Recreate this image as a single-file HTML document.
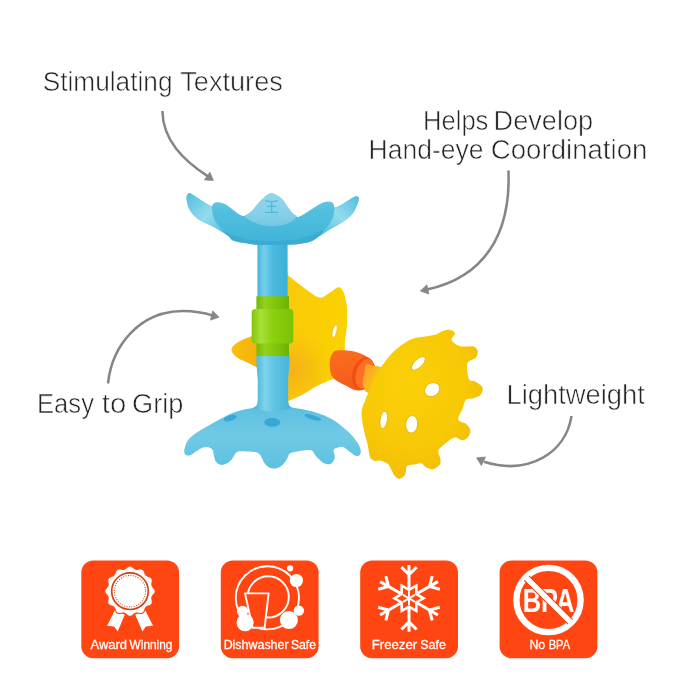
<!DOCTYPE html>
<html lang="en">
<head>
<meta charset="utf-8">
<title>Product features</title>
<style>
html,body{margin:0;padding:0;background:#fff;}
body{width:679px;height:679px;overflow:hidden;}
svg{display:block;font-family:"Liberation Sans",sans-serif;}
</style>
</head>
<body>
<svg width="679" height="679" viewBox="0 0 679 679">
<defs>
<filter id="soft" x="-5%" y="-5%" width="110%" height="110%" color-interpolation-filters="sRGB"><feGaussianBlur stdDeviation="0.35"/></filter>
<filter id="soft2" x="-5%" y="-5%" width="110%" height="110%" color-interpolation-filters="sRGB"><feGaussianBlur stdDeviation="0.45"/></filter>
<linearGradient id="gStem" x1="0" x2="1" y1="0" y2="0">
 <stop offset="0" stop-color="#48B6DB"/><stop offset="0.22" stop-color="#74D0EC"/><stop offset="0.5" stop-color="#4CBADE"/><stop offset="1" stop-color="#3DB0D7"/>
</linearGradient>
<linearGradient id="gStem2" gradientUnits="userSpaceOnUse" x1="257" x2="289" y1="0" y2="0">
 <stop offset="0" stop-color="#52BBDD"/><stop offset="0.25" stop-color="#7ED2EB"/><stop offset="0.55" stop-color="#5FC3E2"/><stop offset="1" stop-color="#48B6DA"/>
</linearGradient>
<linearGradient id="gBowl" x1="0" x2="0" y1="0" y2="1">
 <stop offset="0" stop-color="#6ECAE5"/><stop offset="0.35" stop-color="#53BFDF"/><stop offset="0.8" stop-color="#44B7D9"/><stop offset="1" stop-color="#3EB2D6"/>
</linearGradient>
<linearGradient id="gPetL" x1="0" x2="1" y1="0" y2="1">
 <stop offset="0" stop-color="#52BEDD"/><stop offset="0.5" stop-color="#92DCEE"/><stop offset="1" stop-color="#4EBBDA"/>
</linearGradient>
<linearGradient id="gPetR" x1="1" x2="0" y1="0" y2="1">
 <stop offset="0" stop-color="#52BEDD"/><stop offset="0.5" stop-color="#92DCEE"/><stop offset="1" stop-color="#4EBBDA"/>
</linearGradient>
<linearGradient id="gBase" x1="0" x2="0" y1="0" y2="1">
 <stop offset="0" stop-color="#5CBFE1"/><stop offset="0.5" stop-color="#70CAE5"/><stop offset="1" stop-color="#5CC0E1"/>
</linearGradient>
<linearGradient id="gGreenN" x1="0" x2="1" y1="0" y2="0">
 <stop offset="0" stop-color="#74B806"/><stop offset="0.25" stop-color="#92D01C"/><stop offset="0.7" stop-color="#7CC208"/><stop offset="1" stop-color="#6CB004"/>
</linearGradient>
<linearGradient id="gGreenW" x1="0" x2="1" y1="0" y2="0">
 <stop offset="0" stop-color="#80C608"/><stop offset="0.22" stop-color="#A8E038"/><stop offset="0.5" stop-color="#8CD010"/><stop offset="1" stop-color="#7CC204"/>
</linearGradient>
<linearGradient id="gYB" x1="0" x2="1" y1="0" y2="0">
 <stop offset="0" stop-color="#F9CA0A"/><stop offset="0.5" stop-color="#F9CE04"/><stop offset="1" stop-color="#FAD202"/>
</linearGradient>
<linearGradient id="gYL" x1="0" x2="1" y1="0" y2="0">
 <stop offset="0" stop-color="#F9C00C"/><stop offset="1" stop-color="#F4AE0C"/>
</linearGradient>
<linearGradient id="gOrW" x1="0" x2="0.4" y1="0" y2="1">
 <stop offset="0" stop-color="#FB6E22"/><stop offset="0.5" stop-color="#F9651C"/><stop offset="1" stop-color="#F45A1A"/>
</linearGradient>
<linearGradient id="gShaft" gradientUnits="userSpaceOnUse" x1="360" y1="370" x2="384" y2="378"><stop offset="0" stop-color="#FA9A26"/><stop offset="0.5" stop-color="#FBB420"/><stop offset="1" stop-color="#FCC812"/></linearGradient>
<linearGradient id="gOrN" x1="0" x2="0.4" y1="0" y2="1">
 <stop offset="0" stop-color="#F8601C"/><stop offset="0.5" stop-color="#FB7A30"/><stop offset="1" stop-color="#F35618"/>
</linearGradient>
<linearGradient id="gCP" x1="0" x2="0" y1="0" y2="1"><stop offset="0" stop-color="#93D6EC"/><stop offset="0.6" stop-color="#86D0E9"/><stop offset="1" stop-color="#74C8E5"/></linearGradient>
<radialGradient id="gYSh" gradientUnits="userSpaceOnUse" cx="293" cy="370" r="40"><stop offset="0" stop-color="#F5A81C" stop-opacity="0.75"/><stop offset="0.6" stop-color="#F6B416" stop-opacity="0.4"/><stop offset="1" stop-color="#F8C40C" stop-opacity="0"/></radialGradient>
<radialGradient id="gHi" cx="0.5" cy="0.5" r="0.5"><stop offset="0" stop-color="#8FD4EE" stop-opacity="0.85"/><stop offset="1" stop-color="#8FD4EE" stop-opacity="0"/></radialGradient>
<radialGradient id="gWheel" cx="0.4" cy="0.35" r="0.75">
 <stop offset="0" stop-color="#FAD008"/><stop offset="0.6" stop-color="#F7C806"/><stop offset="1" stop-color="#F0B90A"/>
</radialGradient>
</defs>
<rect width="679" height="679" fill="#fff"/>
<g id="product" filter="url(#soft2)">
<path d="M286.0 273.5C286.5 252.8 286.1 273.8 288.8 275.9C291.5 278.0 297.9 283.0 302.1 286.2C306.3 289.4 311.0 293.1 313.9 295.0C316.8 296.9 317.9 297.2 319.5 297.5C321.1 297.8 321.5 297.8 323.5 296.8C325.5 295.8 329.3 293.0 331.5 291.5C333.7 290.0 335.3 288.3 336.7 287.7C338.1 287.1 339.0 287.1 340.0 287.6C341.0 288.1 341.8 289.1 342.6 290.5C343.4 291.9 344.1 293.0 344.8 296.0C345.5 299.0 346.7 303.3 347.0 308.3C347.3 313.3 347.1 320.6 346.8 326.0C346.5 331.4 345.4 336.4 345.0 340.7C344.6 345.0 345.3 347.1 344.5 352.0C343.7 356.9 341.7 365.6 340.0 370.0C338.3 374.4 336.2 376.9 334.5 378.6C332.8 380.3 332.9 379.1 330.0 380.3C327.1 381.5 321.4 383.6 316.8 386.0C312.2 388.4 306.8 392.4 302.1 394.8C297.4 397.2 291.5 399.8 288.8 400.7C286.1 401.6 286.5 421.2 286.0 400.0C285.5 378.8 285.5 294.2 286.0 273.5Z" fill="url(#gYB)"/>
<path d="M262.0 333.5C260.2 328.0 254.2 335.4 251.0 336.4C247.8 337.4 245.5 338.4 243.0 339.6C240.5 340.8 237.8 342.2 236.0 343.5C234.2 344.8 233.0 346.1 232.3 347.2C231.6 348.3 231.5 348.9 231.6 350.0C231.7 351.1 232.0 352.2 233.0 353.5C234.0 354.8 235.7 356.6 237.7 358.0C239.7 359.4 241.9 360.1 245.0 361.6C248.1 363.1 253.5 365.6 256.3 366.9C259.1 368.2 261.1 375.1 262.0 369.5C262.9 363.9 263.8 339.0 262.0 333.5Z" fill="url(#gYL)"/>
<path d="M286.0 273.5C286.5 252.8 286.1 273.8 288.8 275.9C291.5 278.0 297.9 283.0 302.1 286.2C306.3 289.4 311.0 293.1 313.9 295.0C316.8 296.9 317.9 297.2 319.5 297.5C321.1 297.8 321.5 297.8 323.5 296.8C325.5 295.8 329.3 293.0 331.5 291.5C333.7 290.0 335.3 288.3 336.7 287.7C338.1 287.1 339.0 287.1 340.0 287.6C341.0 288.1 341.8 289.1 342.6 290.5C343.4 291.9 344.1 293.0 344.8 296.0C345.5 299.0 346.7 303.3 347.0 308.3C347.3 313.3 347.1 320.6 346.8 326.0C346.5 331.4 345.4 336.4 345.0 340.7C344.6 345.0 345.3 347.1 344.5 352.0C343.7 356.9 341.7 365.6 340.0 370.0C338.3 374.4 336.2 376.9 334.5 378.6C332.8 380.3 332.9 379.1 330.0 380.3C327.1 381.5 321.4 383.6 316.8 386.0C312.2 388.4 306.8 392.4 302.1 394.8C297.4 397.2 291.5 399.8 288.8 400.7C286.1 401.6 286.5 421.2 286.0 400.0C285.5 378.8 285.5 294.2 286.0 273.5Z" fill="url(#gYSh)"/>
<ellipse cx="334.6" cy="331.2" rx="2.2" ry="6.6" transform="rotate(14.0 334.6 331.2)" fill="#fff" stroke="#E9B408" stroke-width="0.7"/>
<path d="M272.0 405.5C277.8 405.4 282.1 406.0 289.1 407.1C296.1 408.2 306.8 409.9 314.2 412.0C321.6 414.1 327.7 416.7 333.3 420.0C338.9 423.3 344.0 427.9 348.0 431.6C352.0 435.3 355.1 439.1 357.2 442.2C359.3 445.3 360.5 448.3 360.8 450.5C361.1 452.7 360.1 454.6 359.2 455.5C358.3 456.4 357.0 456.4 355.5 455.8C354.0 455.2 352.0 453.4 350.0 452.0C348.0 450.6 345.6 447.9 343.6 447.2C341.6 446.4 339.7 447.0 338.0 447.5C336.3 448.0 334.1 448.4 333.6 450.0C333.1 451.6 335.1 455.0 334.8 457.2C334.5 459.4 333.1 461.8 331.9 463.0C330.7 464.2 329.1 464.5 327.5 464.3C325.9 464.1 324.0 463.4 322.0 462.0C320.0 460.6 317.5 457.7 315.7 455.7C313.9 453.7 313.8 451.0 311.2 450.2C308.6 449.4 303.5 450.5 300.0 451.0C296.5 451.5 292.3 452.1 290.2 453.3C288.1 454.5 288.4 456.5 287.5 458.0C286.6 459.5 285.9 461.1 284.7 462.5C283.5 463.9 282.0 465.6 280.5 466.6C279.0 467.6 277.4 468.2 275.5 468.4C273.6 468.5 271.2 468.4 269.3 467.5C267.4 466.6 265.8 464.9 264.4 463.0C263.0 461.1 262.2 457.9 261.0 456.2C259.8 454.5 259.3 453.4 257.0 452.6C254.7 451.8 250.1 451.8 247.0 451.6C243.9 451.4 240.3 451.1 238.3 451.6C236.3 452.1 235.9 453.1 234.8 454.5C233.7 455.9 232.9 458.3 231.5 459.8C230.1 461.3 228.3 462.8 226.5 463.6C224.7 464.4 222.3 465.2 220.5 464.8C218.7 464.4 216.7 462.8 215.6 461.2C214.5 459.6 214.3 456.9 213.8 455.0C213.3 453.1 213.5 451.3 212.6 450.0C211.7 448.7 210.1 447.6 208.5 447.2C206.9 446.8 205.1 446.8 203.0 447.5C200.9 448.2 198.1 450.2 196.0 451.5C193.9 452.8 192.1 454.4 190.5 455.0C188.9 455.6 187.6 455.8 186.6 455.3C185.6 454.8 184.4 454.0 184.3 452.2C184.2 450.4 184.4 447.2 185.8 444.4C187.2 441.6 188.4 439.0 192.7 435.6C197.0 432.2 204.9 427.7 211.8 423.8C218.7 419.9 226.8 415.1 233.9 412.4C241.0 409.7 248.2 408.9 254.5 407.8C260.9 406.7 266.2 405.6 272.0 405.5Z" fill="url(#gBase)"/>
<path d="M257.8 352.0C260.9 349.2 285.3 349.2 288.3 352.0C291.3 354.8 288.2 375.2 288.2 380.0C288.2 384.8 288.1 397.4 288.2 400.0C288.3 402.6 289.1 404.6 289.4 405.5C289.7 406.4 293.2 407.9 291.5 408.5C289.8 409.1 275.9 412.0 272.0 412.0C268.1 412.0 254.6 409.4 253.0 408.8C251.4 408.2 255.9 406.4 256.4 405.5C256.9 404.6 257.6 402.6 257.7 400.0C257.8 397.4 257.8 384.8 257.8 380.0C257.8 375.2 254.8 354.8 257.8 352.0Z" fill="url(#gStem2)"/>
<ellipse cx="230.2" cy="418.1" rx="6.8" ry="2.8" transform="rotate(-17.0 230.2 418.1)" fill="#36AAD2" />
<ellipse cx="312.7" cy="417.4" rx="8.8" ry="2.2" transform="rotate(17.0 312.7 417.4)" fill="#36AAD2" />
<ellipse cx="272.3" cy="422.4" rx="8.0" ry="4.4" transform="rotate(0.0 272.3 422.4)" fill="#36AAD2" />
<rect x="257.4" y="238" width="30.2" height="62" fill="url(#gStem)"/>
<path d="M186.6 196.4C186.8 195.1 187.4 194.4 188.0 193.9C188.6 193.4 188.7 192.7 190.2 193.3C191.7 193.9 194.5 195.9 197.0 197.5C199.5 199.1 202.6 201.3 205.0 202.8C207.4 204.3 209.9 206.1 211.3 206.3C212.7 206.5 212.5 204.5 213.4 203.8C214.3 203.1 215.0 202.3 216.8 202.3C218.6 202.3 221.5 202.5 224.0 203.6C226.5 204.7 229.5 207.2 232.0 209.0C234.5 210.8 236.9 213.0 239.0 214.2C241.1 215.4 242.9 216.3 244.8 216.0C246.7 215.7 248.5 214.1 250.5 212.5C252.5 210.9 254.7 208.6 256.6 206.5C258.5 204.4 260.5 201.7 262.0 200.0C263.5 198.3 264.3 197.2 265.4 196.2C266.5 195.2 267.5 194.5 268.5 194.0C269.5 193.5 270.5 193.2 271.5 193.2C272.5 193.2 273.4 193.5 274.5 194.0C275.6 194.5 276.9 195.2 278.0 196.0C279.1 196.8 279.9 197.2 281.2 198.6C282.5 200.0 284.3 202.2 286.0 204.5C287.7 206.8 289.8 210.4 291.5 212.4C293.2 214.4 294.8 215.6 296.0 216.3C297.2 217.0 297.4 217.3 298.9 216.8C300.4 216.3 302.6 215.0 305.0 213.5C307.4 212.0 311.1 209.6 313.6 208.0C316.1 206.4 318.3 205.0 320.0 204.0C321.7 203.0 322.6 202.6 323.9 202.2C325.2 201.8 326.8 201.4 328.0 201.4C329.2 201.4 330.4 201.6 331.3 202.0C332.2 202.4 333.0 203.1 333.6 204.0C334.2 204.9 333.6 207.5 335.0 207.6C336.4 207.7 339.7 205.8 342.0 204.5C344.3 203.2 347.0 201.2 349.0 200.0C351.0 198.8 352.8 197.6 354.0 197.0C355.2 196.4 355.6 196.2 356.3 196.2C357.0 196.2 357.8 196.6 358.2 197.0C358.6 197.4 358.9 197.6 358.8 198.8C358.7 200.0 358.4 201.7 357.5 204.0C356.6 206.3 355.0 210.1 353.4 212.4C351.8 214.7 350.0 216.3 348.0 218.0C346.0 219.7 344.4 220.9 341.6 222.7C338.8 224.5 335.0 226.4 331.3 228.6C327.6 230.8 322.7 233.9 319.5 236.0C316.3 238.1 315.2 239.7 312.0 241.0C308.8 242.3 304.1 243.2 300.0 243.8C295.9 244.4 291.9 244.6 287.2 244.8C282.5 245.0 277.0 245.0 272.0 245.0C267.0 245.0 261.6 245.1 257.3 244.8C253.0 244.5 250.4 244.0 246.3 243.3C242.2 242.6 235.9 241.6 233.0 240.4C230.1 239.2 231.8 238.2 228.6 236.0C225.4 233.8 218.8 229.7 213.9 227.0C209.0 224.3 202.7 222.1 199.0 219.8C195.3 217.5 193.7 215.0 192.0 213.0C190.3 211.0 189.7 209.9 188.8 208.0C188.0 206.1 187.3 203.4 186.9 201.5C186.5 199.6 186.4 197.7 186.6 196.4Z" fill="url(#gBowl)"/>
<path d="M186.6 196.4C186.8 195.1 187.4 194.4 188.0 193.9C188.6 193.4 188.7 192.7 190.2 193.3C191.7 193.9 194.5 195.9 197.0 197.5C199.5 199.1 202.6 201.2 205.0 202.8C207.4 204.4 210.2 205.1 211.5 207.0C212.8 208.9 211.8 211.4 212.6 214.0C213.3 216.6 214.3 219.8 216.0 222.5C217.7 225.2 220.9 228.2 223.0 230.5C225.1 232.8 230.1 236.6 228.6 236.0C227.1 235.4 218.8 229.7 213.9 227.0C209.0 224.3 202.7 222.1 199.0 219.8C195.3 217.5 193.7 215.0 192.0 213.0C190.3 211.0 189.7 209.9 188.8 208.0C188.0 206.1 187.3 203.4 186.9 201.5C186.5 199.6 186.4 197.7 186.6 196.4Z" fill="url(#gPetL)"/>
<path d="M358.8 198.8C358.9 197.6 358.6 197.4 358.2 197.0C357.8 196.6 357.0 196.2 356.3 196.2C355.6 196.2 355.2 196.4 354.0 197.0C352.8 197.6 351.0 198.8 349.0 200.0C347.0 201.2 344.3 203.1 342.0 204.5C339.7 205.9 336.4 206.4 335.0 208.2C333.6 209.9 334.4 212.5 333.6 215.0C332.8 217.5 331.6 220.4 330.0 223.0C328.4 225.6 325.8 228.3 324.0 230.5C322.2 232.7 318.3 236.3 319.5 236.0C320.7 235.7 327.6 230.8 331.3 228.6C335.0 226.4 338.8 224.5 341.6 222.7C344.4 220.9 346.0 219.7 348.0 218.0C350.0 216.3 351.8 214.7 353.4 212.4C355.0 210.1 356.6 206.3 357.5 204.0C358.4 201.7 358.7 200.0 358.8 198.8Z" fill="url(#gPetR)"/>
<path d="M222.0 230.0C222.8 230.0 228.3 233.6 232.0 235.0C235.7 236.4 239.7 237.7 244.0 238.6C248.3 239.5 253.3 240.2 258.0 240.6C262.7 241.0 267.3 241.2 272.0 241.2C276.7 241.2 281.3 241.0 286.0 240.6C290.7 240.2 295.7 239.5 300.0 238.6C304.3 237.7 308.3 236.4 312.0 235.0C315.7 233.6 320.5 230.1 322.0 230.0C323.5 229.9 322.7 232.8 321.0 234.6C319.3 236.4 315.5 239.5 312.0 241.0C308.5 242.5 304.1 243.2 300.0 243.8C295.9 244.4 291.9 244.6 287.2 244.8C282.5 245.0 277.0 245.0 272.0 245.0C267.0 245.0 261.6 245.1 257.3 244.8C253.0 244.5 250.4 244.0 246.3 243.3C242.2 242.6 236.1 241.8 233.0 240.4C229.9 239.1 229.3 236.9 227.5 235.2C225.7 233.5 221.2 230.0 222.0 230.0Z" fill="#38AAD3" opacity="0.8"/>
<path d="M244.7 216.0C244.4 214.9 247.2 214.6 248.5 213.6C249.8 212.6 251.2 211.5 252.6 210.0C254.0 208.5 255.5 206.4 257.0 204.6C258.5 202.8 259.9 200.9 261.5 199.4C263.1 197.9 265.1 196.4 266.8 195.4C268.5 194.4 270.0 193.3 271.6 193.2C273.2 193.1 274.6 193.9 276.5 195.0C278.4 196.1 281.1 198.0 282.7 199.6C284.3 201.2 284.8 202.8 286.0 204.5C287.2 206.2 288.4 208.0 289.7 209.6C290.9 211.2 292.3 212.9 293.5 214.0C294.7 215.1 296.9 215.2 296.8 216.3C296.7 217.4 294.5 219.4 293.0 220.6C291.5 221.8 290.2 222.5 288.0 223.3C285.8 224.1 282.7 225.1 280.0 225.6C277.3 226.1 274.7 226.4 272.0 226.4C269.3 226.4 266.6 226.1 264.0 225.6C261.4 225.1 258.5 224.2 256.2 223.3C253.9 222.4 251.9 221.6 250.0 220.4C248.1 219.2 244.9 217.1 244.7 216.0Z" fill="url(#gCP)"/>
<path d="M265.4 200.6 Q271.6 202.6 277.8 200.6 M267 206.4 H276.2 M265 212.4 H278.2 M271.6 201.6 V212.4" fill="none" stroke="#4DB9DC" stroke-width="1.3"/>
<rect x="256.4" y="296.3" width="32.6" height="59.8" fill="url(#gGreenN)"/>
<rect x="251.7" y="309" width="41.6" height="34.6" rx="3.5" fill="url(#gGreenW)"/>
<path d="M329.8 362.0C330.0 359.8 330.4 357.6 331.0 356.0C331.6 354.4 332.6 353.1 333.5 352.2C334.4 351.3 334.6 350.8 336.5 350.5C338.4 350.2 342.1 350.1 345.0 350.3C347.9 350.5 351.3 350.9 354.0 351.5C356.7 352.1 358.9 352.9 361.0 353.8C363.1 354.7 364.7 355.5 366.4 356.6C368.1 357.7 369.6 359.1 371.0 360.5C372.4 361.9 373.8 363.4 374.6 364.9C375.4 366.4 375.7 367.6 375.6 369.5C375.5 371.4 374.8 374.2 374.0 376.5C373.2 378.8 372.2 381.1 371.0 383.0C369.8 384.9 368.6 386.8 367.0 388.0C365.4 389.2 363.4 389.9 361.2 390.2C359.0 390.5 356.6 390.6 354.0 389.8C351.4 389.0 348.8 387.2 345.8 385.6C342.9 384.0 338.7 382.1 336.3 380.4C333.9 378.7 332.7 377.3 331.6 375.4C330.6 373.5 330.3 371.2 330.0 369.0C329.7 366.8 329.6 364.2 329.8 362.0Z" fill="url(#gOrW)"/>
<ellipse cx="363.2" cy="373.3" rx="10.6" ry="16.6" transform="rotate(17.0 363.2 373.3)" fill="#F24E12" />
<ellipse cx="364.8" cy="373.6" rx="8.8" ry="15.2" transform="rotate(17.0 364.8 373.6)" fill="#FC6F24" />
<path d="M365.5 365.6C366.6 362.4 370.8 365.6 373.0 365.8C375.2 366.0 380.4 366.6 382.0 367.2C383.6 367.8 385.5 368.2 385.0 370.0C384.5 371.8 379.9 378.1 378.0 381.0C376.1 383.9 372.8 390.9 371.0 392.0C369.2 393.1 365.2 393.1 364.5 389.6C363.8 386.1 364.4 368.8 365.5 365.6Z" fill="url(#gShaft)"/>
<ellipse cx="368.3" cy="376.8" rx="4.8" ry="11.6" transform="rotate(17.0 368.3 376.8)" fill="url(#gShaft)" />
<path d="M409.6 339.9C414.8 337.5 420.7 337.5 425.1 336.6C429.5 335.6 433.2 335.3 436.1 334.4C439.1 333.4 440.4 331.8 442.8 331.0C445.2 330.3 448.5 329.6 450.5 329.9C452.5 330.3 454.7 331.6 454.9 333.3C455.1 334.9 451.1 337.9 451.6 339.9C452.2 341.9 456.0 344.3 458.2 345.4C460.4 346.5 462.3 346.3 464.9 346.5C467.4 346.7 471.6 345.8 473.7 346.5C475.8 347.2 477.3 349.1 477.7 350.9C478.0 352.8 477.5 355.7 475.9 357.6C474.3 359.4 469.7 360.1 468.2 362.0C466.7 363.8 466.9 365.7 467.1 368.6C467.3 371.5 467.8 377.4 469.3 379.6C470.8 381.9 473.7 380.6 475.9 381.9C478.1 383.1 481.8 385.2 482.5 387.4C483.3 389.6 482.0 393.3 480.3 395.1C478.7 396.9 475.0 397.7 472.6 398.4C470.2 399.2 467.6 397.9 466.0 399.5C464.3 401.2 463.9 405.0 462.7 408.4C461.4 411.7 457.7 416.8 458.2 419.4C458.8 422.0 463.9 422.0 466.0 423.8C468.0 425.7 470.2 428.1 470.4 430.4C470.6 432.8 468.6 436.6 467.1 438.2C465.5 439.8 463.0 440.2 461.0 440.0C459.0 439.8 457.4 436.8 455.0 437.2C452.6 437.6 449.1 440.5 446.3 442.7C443.6 444.9 439.5 447.8 438.5 450.5C437.5 453.2 440.2 456.5 440.4 458.9C440.6 461.3 440.9 463.1 439.7 464.8C438.5 466.5 435.3 468.8 433.0 469.2C430.7 469.6 427.6 468.0 425.7 467.0C423.8 466.0 423.3 463.7 421.3 463.3C419.3 462.9 416.3 464.0 413.9 464.5C411.5 465.0 408.1 465.0 406.8 466.3C405.5 467.6 406.3 470.5 405.8 472.2C405.3 473.9 404.7 475.5 403.6 476.6C402.5 477.7 400.7 478.9 399.2 478.8C397.7 478.7 396.1 477.4 394.8 475.8C393.5 474.2 392.2 471.1 391.1 469.2C390.0 467.2 389.2 465.3 388.1 464.1C387.0 462.9 386.0 462.5 384.5 461.9C383.0 461.3 380.8 460.5 379.3 460.4C377.8 460.3 376.8 461.2 375.6 461.1C374.4 461.0 372.9 460.5 371.9 459.6C370.9 458.8 370.4 458.6 369.7 456.0C369.0 453.4 368.5 448.6 367.5 444.2C366.5 439.8 364.8 434.4 363.8 429.5C362.8 424.6 361.8 418.4 361.6 414.7C361.4 411.0 361.8 409.8 362.4 407.4C363.0 404.9 364.1 403.2 365.3 400.0C366.5 396.8 368.4 392.2 369.9 388.5C371.4 384.7 372.1 381.5 374.3 377.4C376.5 373.4 379.8 368.6 383.1 364.2C386.4 359.8 389.8 355.0 394.2 350.9C398.6 346.9 404.5 342.3 409.6 339.9Z" fill="url(#gWheel)"/>
<ellipse cx="418.4" cy="363.4" rx="8.9" ry="4.0" transform="rotate(-44.0 418.4 363.4)" fill="#fff" stroke="#E4B004" stroke-width="0.8"/>
<ellipse cx="432.1" cy="389.6" rx="8.0" ry="6.6" transform="rotate(-32.0 432.1 389.6)" fill="#fff" stroke="#E4B004" stroke-width="0.8"/>
<ellipse cx="411.7" cy="424.3" rx="6.0" ry="8.8" transform="rotate(6.0 411.7 424.3)" fill="#fff" stroke="#E4B004" stroke-width="0.8"/>
<ellipse cx="383.7" cy="419.9" rx="3.6" ry="8.8" transform="rotate(9.0 383.7 419.9)" fill="#fff" stroke="#E4B004" stroke-width="0.8"/>
</g>
<g id="arrows" filter="url(#soft)">
<path d="M162.4 111 C162.8 140 183 160 208 176.4" fill="none" stroke="#868686" stroke-width="2.55" stroke-linecap="butt"/><polygon points="213.4,180.4 204.5,179.9 209.9,172.2" fill="#868686" stroke="#868686" stroke-width="0.8" stroke-linejoin="round"/>
<path d="M508.5 170.5 C511 236 483 277.5 427 289.6" fill="none" stroke="#868686" stroke-width="2.55" stroke-linecap="butt"/><polygon points="420.4,291.0 426.9,284.8 428.8,294.0" fill="#868686" stroke="#868686" stroke-width="0.8" stroke-linejoin="round"/>
<path d="M108 383.5 C112 345 140 311 183 311 C195 311 205 313 213 315.6" fill="none" stroke="#868686" stroke-width="2.55" stroke-linecap="butt"/><polygon points="219.0,317.2 210.5,320.1 212.7,310.9" fill="#868686" stroke="#868686" stroke-width="0.8" stroke-linejoin="round"/>
<path d="M571.5 416 C566 452 530 476 484 461.8" fill="none" stroke="#868686" stroke-width="2.55" stroke-linecap="butt"/><polygon points="476.6,457.9 485.5,457.0 481.4,465.5" fill="#868686" stroke="#868686" stroke-width="0.8" stroke-linejoin="round"/>
</g>
<g id="labels" filter="url(#soft)">
<text font-size="27.0" fill="#242424" stroke="#fff" stroke-width="0.60"><tspan x="42.71" y="90.50" textLength="129.78" lengthAdjust="spacingAndGlyphs">Stimulating</tspan> <tspan x="180.21" y="90.50" textLength="102.65" lengthAdjust="spacingAndGlyphs">Textures</tspan></text>
<text font-size="27.0" fill="#242424" stroke="#fff" stroke-width="0.60"><tspan x="423.00" y="129.60" textLength="65.42" lengthAdjust="spacingAndGlyphs">Helps</tspan> <tspan x="493.57" y="129.60" textLength="99.67" lengthAdjust="spacingAndGlyphs">Develop</tspan></text>
<text font-size="27.0" fill="#242424" stroke="#fff" stroke-width="0.60"><tspan x="368.52" y="159.30" textLength="115.06" lengthAdjust="spacingAndGlyphs">Hand-eye</tspan> <tspan x="490.80" y="159.30" textLength="156.60" lengthAdjust="spacingAndGlyphs">Coordination</tspan></text>
<text font-size="27.0" fill="#242424" stroke="#fff" stroke-width="0.60"><tspan x="37.00" y="412.90" textLength="56.95" lengthAdjust="spacingAndGlyphs">Easy</tspan> <tspan x="101.86" y="412.90" textLength="24.37" lengthAdjust="spacingAndGlyphs">to</tspan> <tspan x="132.03" y="412.90" textLength="51.41" lengthAdjust="spacingAndGlyphs">Grip</tspan></text>
<text font-size="27.0" fill="#242424" stroke="#fff" stroke-width="0.60"><tspan x="506.46" y="403.90" textLength="138.45" lengthAdjust="spacingAndGlyphs">Lightweight</tspan></text>
</g>
<g id="badges">
<rect x="81.3" y="560.5" width="97.8" height="97.8" rx="12" fill="#FF4612"/>
<rect x="220.8" y="560.5" width="97.8" height="97.8" rx="12" fill="#FF4612"/>
<rect x="360.2" y="560.5" width="97.8" height="97.8" rx="12" fill="#FF4612"/>
<rect x="499.6" y="560.5" width="97.8" height="97.8" rx="12" fill="#FF4612"/>
<g fill="#fff"><polygon points="115.3,609.5 124.7,614.8 117.7,631.6 114.1,626.5 107.1,625.7"/><polygon points="144.8,609.5 135.3,614.8 142.4,631.6 145.9,626.5 153,625.7"/><polygon points="155.25,591.20 155.18,591.86 154.98,592.51 154.66,593.14 154.25,593.75 153.79,594.33 153.32,594.89 152.88,595.44 152.49,595.98 152.18,596.53 151.97,597.09 151.87,597.68 151.86,598.30 151.93,598.97 152.05,599.66 152.17,600.38 152.28,601.12 152.33,601.85 152.29,602.55 152.14,603.22 151.87,603.83 151.48,604.36 150.98,604.82 150.38,605.21 149.73,605.53 149.04,605.81 148.35,606.06 147.69,606.31 147.08,606.58 146.55,606.90 146.09,607.29 145.70,607.75 145.38,608.28 145.11,608.89 144.86,609.55 144.61,610.24 144.33,610.93 144.01,611.58 143.62,612.18 143.16,612.68 142.62,613.07 142.02,613.34 141.35,613.49 140.65,613.53 139.92,613.48 139.18,613.37 138.46,613.25 137.77,613.13 137.10,613.06 136.48,613.07 135.89,613.17 135.33,613.38 134.78,613.69 134.24,614.08 133.69,614.52 133.13,614.99 132.55,615.45 131.94,615.86 131.31,616.18 130.66,616.38 130.00,616.45 129.34,616.38 128.69,616.18 128.06,615.86 127.45,615.45 126.87,614.99 126.31,614.52 125.76,614.08 125.22,613.69 124.67,613.38 124.11,613.17 123.52,613.07 122.90,613.06 122.23,613.13 121.54,613.25 120.82,613.37 120.08,613.48 119.35,613.53 118.65,613.49 117.98,613.34 117.38,613.07 116.84,612.68 116.38,612.18 115.99,611.58 115.67,610.93 115.39,610.24 115.14,609.55 114.89,608.89 114.62,608.28 114.30,607.75 113.91,607.29 113.45,606.90 112.92,606.58 112.31,606.31 111.65,606.06 110.96,605.81 110.27,605.53 109.62,605.21 109.02,604.82 108.52,604.36 108.13,603.83 107.86,603.22 107.71,602.55 107.67,601.85 107.72,601.12 107.83,600.38 107.95,599.66 108.07,598.97 108.14,598.30 108.13,597.68 108.03,597.09 107.82,596.53 107.51,595.98 107.12,595.44 106.68,594.89 106.21,594.33 105.75,593.75 105.34,593.14 105.02,592.51 104.82,591.86 104.75,591.20 104.82,590.54 105.02,589.89 105.34,589.26 105.75,588.65 106.21,588.07 106.68,587.51 107.12,586.96 107.51,586.42 107.82,585.87 108.03,585.31 108.13,584.72 108.14,584.10 108.07,583.43 107.95,582.74 107.83,582.02 107.72,581.28 107.67,580.55 107.71,579.85 107.86,579.18 108.13,578.58 108.52,578.04 109.02,577.58 109.62,577.19 110.27,576.87 110.96,576.59 111.65,576.34 112.31,576.09 112.92,575.82 113.45,575.50 113.91,575.11 114.30,574.65 114.62,574.12 114.89,573.51 115.14,572.85 115.39,572.16 115.67,571.47 115.99,570.82 116.38,570.22 116.84,569.72 117.37,569.33 117.98,569.06 118.65,568.91 119.35,568.87 120.08,568.92 120.82,569.03 121.54,569.15 122.23,569.27 122.90,569.34 123.52,569.33 124.11,569.23 124.67,569.02 125.22,568.71 125.76,568.32 126.31,567.88 126.87,567.41 127.45,566.95 128.06,566.54 128.69,566.22 129.34,566.02 130.00,565.95 130.66,566.02 131.31,566.22 131.94,566.54 132.55,566.95 133.13,567.41 133.69,567.88 134.24,568.32 134.78,568.71 135.33,569.02 135.89,569.23 136.48,569.33 137.10,569.34 137.77,569.27 138.46,569.15 139.18,569.03 139.92,568.92 140.65,568.87 141.35,568.91 142.02,569.06 142.62,569.33 143.16,569.72 143.62,570.22 144.01,570.82 144.33,571.47 144.61,572.16 144.86,572.85 145.11,573.51 145.38,574.12 145.70,574.65 146.09,575.11 146.55,575.50 147.08,575.82 147.69,576.09 148.35,576.34 149.04,576.59 149.73,576.87 150.38,577.19 150.98,577.58 151.48,578.04 151.87,578.58 152.14,579.18 152.29,579.85 152.33,580.55 152.28,581.28 152.17,582.02 152.05,582.74 151.93,583.43 151.86,584.10 151.87,584.72 151.97,585.31 152.18,585.87 152.49,586.42 152.88,586.96 153.32,587.51 153.79,588.07 154.25,588.65 154.66,589.26 154.98,589.89 155.18,590.54" stroke="#FF4612" stroke-width="1.2"/></g><circle cx="130.0" cy="591.2" r="18.3" fill="#fff" stroke="#D2431A" stroke-width="1.7"/><circle cx="130.0" cy="591.2" r="15.7" fill="none" stroke="#D2431A" stroke-width="1.05" stroke-dasharray="1 1.466"/><g filter="url(#soft)"><text font-size="13.6" fill="#fff" stroke="#fff" stroke-width="0.30"><tspan x="90.52" y="649.00" textLength="36.56" lengthAdjust="spacingAndGlyphs">Award</tspan> <tspan x="129.60" y="649.00" textLength="42.71" lengthAdjust="spacingAndGlyphs">Winning</tspan></text></g>
<g fill="none" stroke="#fff" stroke-width="1.9"><circle cx="267.4" cy="597.8" r="31.6"/><circle cx="268.2" cy="596.9" r="20.6"/></g><polygon points="245,593.4 268.6,593.4 264.6,627.8 252.6,627.8" fill="#FF4612" stroke="#fff" stroke-width="1.9" stroke-linejoin="round"/><circle cx="290.1" cy="568.3" r="3.1" fill="#fff"/><circle cx="296.4" cy="580.5" r="6.6" fill="#fff"/><circle cx="298.9" cy="610.6" r="5.2" fill="#fff"/><circle cx="288.9" cy="620.1" r="9.0" fill="#fff"/><circle cx="242.5" cy="611.3" r="5.6" fill="#fff"/><circle cx="245.1" cy="622.6" r="8.6" fill="#fff"/><g filter="url(#soft)"><text font-size="13.6" fill="#fff" stroke="#fff" stroke-width="0.30"><tspan x="223.63" y="649.00" textLength="64.93" lengthAdjust="spacingAndGlyphs">Dishwasher</tspan> <tspan x="290.90" y="649.00" textLength="25.10" lengthAdjust="spacingAndGlyphs">Safe</tspan></text></g>
<g transform="translate(409.0 598.3)" fill="none" stroke="#fff" stroke-width="3" stroke-linecap="butt" stroke-linejoin="miter"><g transform="rotate(0)"><path d="M0 -8 V-33.4 M-7.6 -31.2 L0 -23.6 L7.6 -31.2" /></g><g transform="rotate(60)"><path d="M0 -8 V-33.4 M-7.6 -31.2 L0 -23.6 L7.6 -31.2" /></g><g transform="rotate(120)"><path d="M0 -8 V-33.4 M-7.6 -31.2 L0 -23.6 L7.6 -31.2" /></g><g transform="rotate(180)"><path d="M0 -8 V-33.4 M-7.6 -31.2 L0 -23.6 L7.6 -31.2" /></g><g transform="rotate(240)"><path d="M0 -8 V-33.4 M-7.6 -31.2 L0 -23.6 L7.6 -31.2" /></g><g transform="rotate(300)"><path d="M0 -8 V-33.4 M-7.6 -31.2 L0 -23.6 L7.6 -31.2" /></g><polygon points="7.3,-12.6 7.4,-4.2 14.5,0.0 7.4,4.2 7.3,12.6 0.0,8.5 -7.2,12.6 -7.4,4.2 -14.5,0.0 -7.4,-4.3 -7.3,-12.6 -0.0,-8.5" stroke-width="2.6"/><path d="M0 -7 V7 M-6 -3.5 L6 3.5 M-6 3.5 L6 -3.5" stroke-width="2"/></g><g filter="url(#soft)"><text font-size="13.6" fill="#fff" stroke="#fff" stroke-width="0.30"><tspan x="371.66" y="649.00" textLength="45.61" lengthAdjust="spacingAndGlyphs">Freezer</tspan> <tspan x="420.28" y="649.00" textLength="25.62" lengthAdjust="spacingAndGlyphs">Safe</tspan></text></g>
<g filter="url(#soft)"><text font-size="32.4" fill="#fff" font-weight="bold"><tspan x="522.66" y="612.40" textLength="51.79" lengthAdjust="spacingAndGlyphs">BPA</tspan></text></g><circle cx="548.5" cy="600.0" r="32.1" fill="none" stroke="#fff" stroke-width="6.4"/><g transform="rotate(45 548.5 600.0)"><rect x="517.5" y="596.2" width="62" height="7.6" fill="#E2481A"/><rect x="515.5" y="597.3" width="66" height="5.4" fill="#fff"/></g><g filter="url(#soft)"><text font-size="13.6" fill="#fff" stroke="#fff" stroke-width="0.30"><tspan x="529.43" y="649.00" textLength="15.84" lengthAdjust="spacingAndGlyphs">No</tspan> <tspan x="548.67" y="649.00" textLength="21.40" lengthAdjust="spacingAndGlyphs">BPA</tspan></text></g>
</g>
</svg>
</body>
</html>
